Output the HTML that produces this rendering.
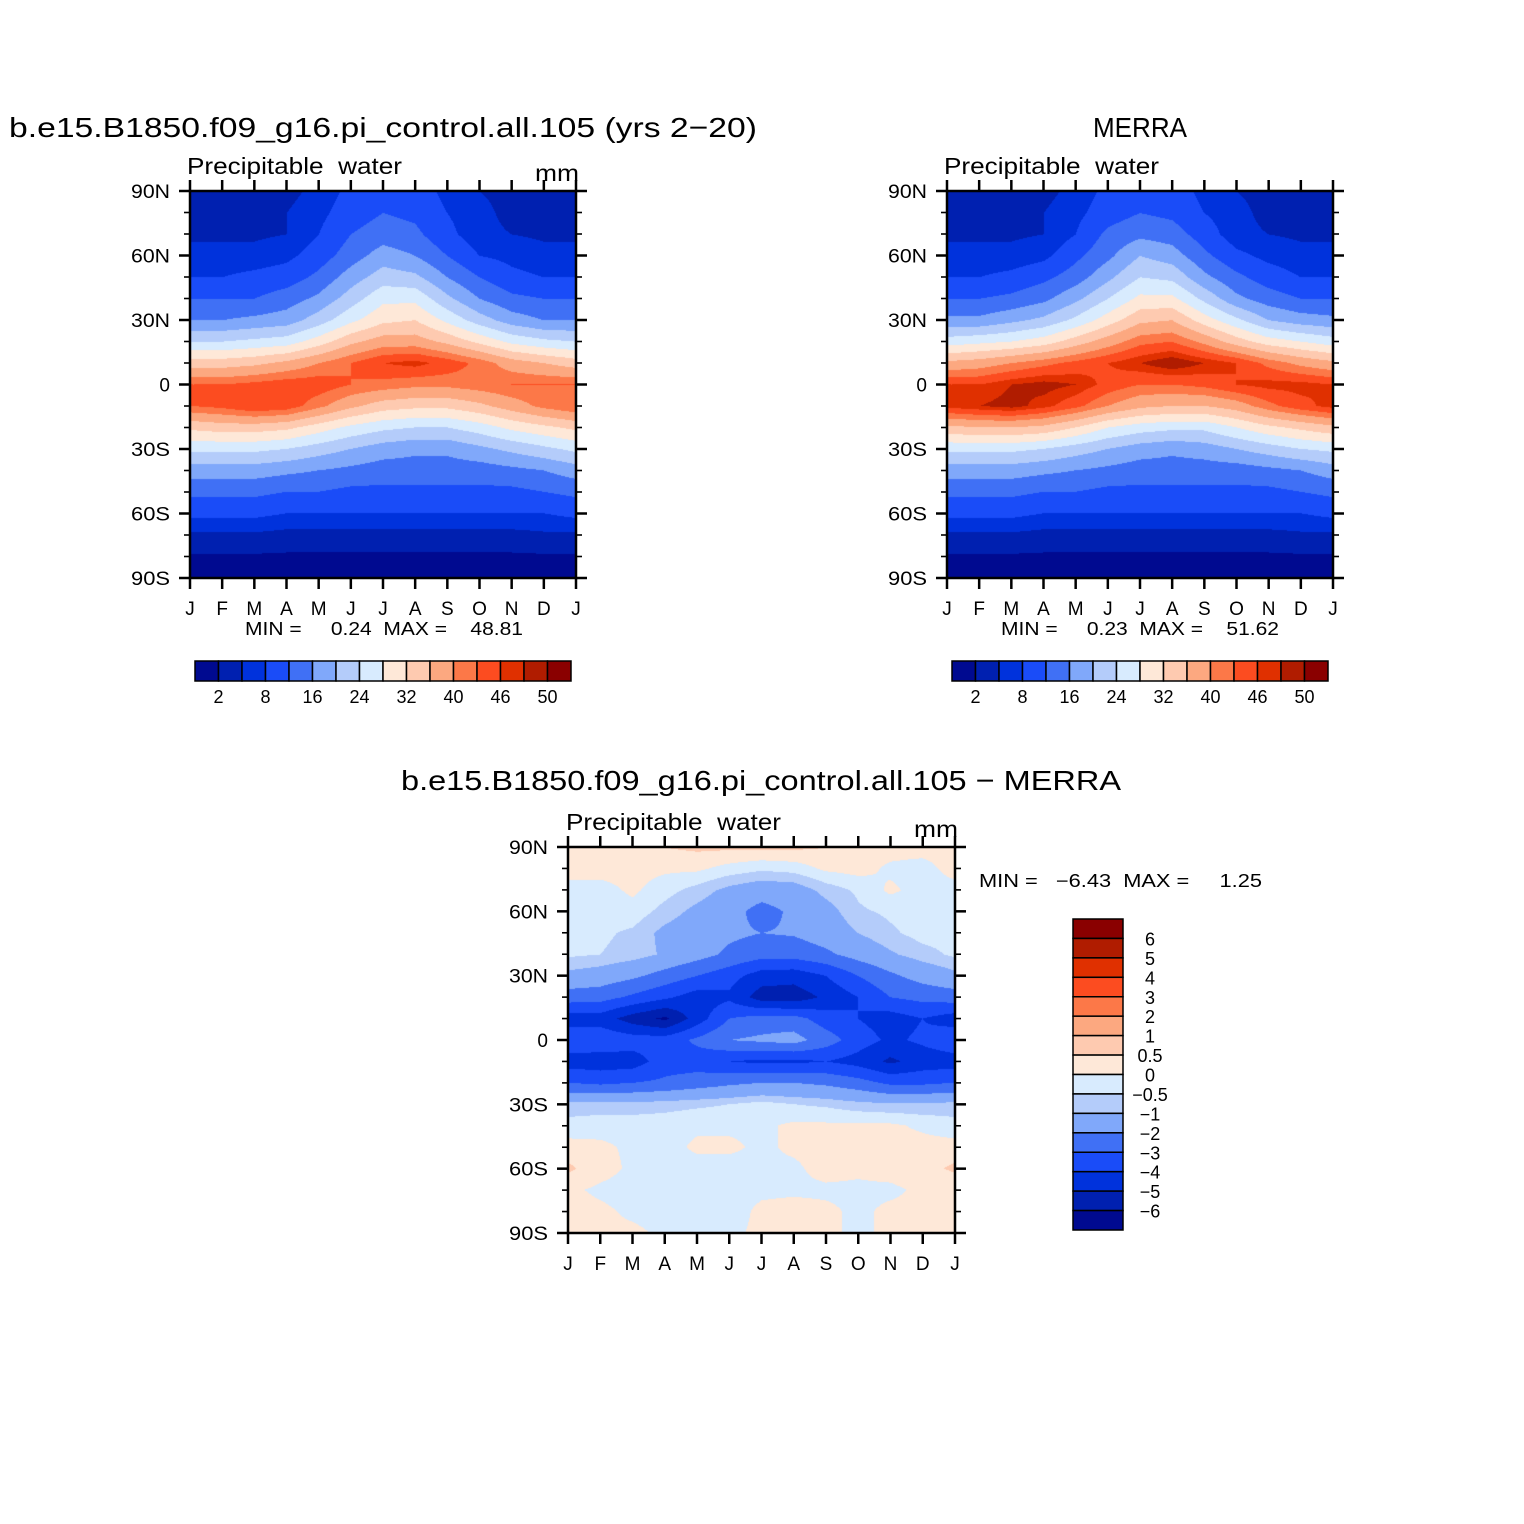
<!DOCTYPE html>
<html><head><meta charset="utf-8">
<style>
html,body{margin:0;padding:0;background:#fff;}
#wrap{position:relative;width:1524px;height:1524px;overflow:hidden;font-family:"Liberation Sans",sans-serif;}
canvas{position:absolute;}
svg{position:absolute;left:0;top:0;}
</style></head>
<body>
<div id="wrap">
<canvas id="c1" width="386" height="387" style="left:190px;top:191px"></canvas>
<canvas id="c2" width="386" height="387" style="left:947px;top:191px"></canvas>
<canvas id="c3" width="387" height="386" style="left:568px;top:847px"></canvas>
<svg id="ov" width="1524" height="1524"></svg>
</div>
<script>
const months=["J","F","M","A","M","J","J","A","S","O","N","D","J"];
const lats=[90,80,70,60,50,40,30,20,10,0,-10,-20,-30,-40,-50,-60,-70,-80,-90];
const latTicks=["90N","60N","30N","0","30S","60S","90S"];
const absLevels=[2,5,8,12,16,20,24,28,32,36,40,43,46,48,50];
const absLabels=["2","8","16","24","32","40","46","50"];
const diffLevels=[-6,-5,-4,-3,-2,-1,-0.5,0,0.5,1,2,3,4,5,6];
const diffLabels=["6","5","4","3","2","1","0.5","0","\u22120.5","\u22121","\u22122","\u22123","\u22124","\u22125","\u22126"];
const palette=["#000a90","#0020b0","#0032dc","#1a4cf8","#4070f5","#80a8fa","#b4ccfa","#d8ebfe","#fee8d8","#fecab0","#fca880","#fc7848","#fc4c20","#e03000","#b01c00","#8a0000"];
const modelPW=[
[4,4,4,4,6,9,11,10,7,5,4,4,4],
[4,4,4,5,7,10,12,11,8,6,4,4,4],
[4.5,4.5,4.5,5,8,12,14,13,9,6,5,4.5,4.5],
[6,6,6,7,10,14,18,16,12,8,7,6,6],
[8,8,9,10,13,18,22,21,16,12,9,8,8],
[12,12,12,14,17,22,27,27,21,16,13,12,12],
[16,16,17,18,22,27,31,32,27,22,18,16,16],
[24,24,25,26,30,35,38,38,35,31,27,25,24],
[34,34,35,37,40,43,46,47,45,42,38,36,34],
[43,43,44,45,45,43,42,41,41,42,43,43,43],
[43,44,46,45,41,37,34,33,33,35,38,41,43],
[33,34,34,33,30,27,25,24,24,26,29,31,33],
[25,25,25,24,22,20,18,17,17,19,21,23,25],
[18,18,18,17,16,15,14,14,14,14,15,16,18],
[13,13,13,12,12,11,11,11,11,11,11,12,13],
[9,9,9,8,8,8,8,8,8,8,8,8,9],
[4.5,4.5,4.5,4,4,4,4,4,4,4,4,4.5,4.5],
[1.8,1.8,1.7,1.6,1.5,1.5,1.5,1.5,1.5,1.5,1.6,1.7,1.8],
[1.5,1.5,1.2,1,1,1,1,1,1,1,1,1.2,1.5]];
const merraPW=[
[3.5,3.5,3.5,4,6,9,11,10,7,5,4,3.5,3.5],
[4,4,4,5,7,10,12,11,8,6,4,4,4],
[4.5,4.5,4.5,5,8,13,15,14,10,6,5,4.5,4.5],
[6,6,6,7,11,15,20,18,13,9,7,6,6],
[8,8,9,11,14,19,24,23,17,13,10,8,8],
[12,12,13,15,19,24,29,29,23,17,14,12,12],
[17,17,19,21,25,30,35,36,30,25,20,18,17],
[26,27,28,30,34,38,42,43,39,34,30,28,26],
[37,38,40,42,44,46,48,50,48,46,42,39,37],
[46,46,48,49,48,45,43,43,44,46,47,47,46],
[47,48,49,47,44,40,37,36,36,38,42,45,47],
[35,36,36,35,32,28,26,25,25,28,31,33,35],
[25,25,25,24,22,20,18,17,18,20,22,24,25],
[18,18,18,17,16,15,14,14,14,14,15,16,18],
[13,13,13,12,12,11,11,11,11,11,11,12,13],
[9,9,9,8,8,8,8,8,8,8,8,8,9],
[4.5,4.5,4.5,4,4,4,4,4,4,4,4,4.5,4.5],
[1.8,1.8,1.7,1.6,1.5,1.5,1.5,1.5,1.5,1.5,1.6,1.7,1.8],
[1.4,1.4,1.2,1,1,1,1,1,1,1,1,1.2,1.4]];
const diffPW=[
[0.2,0.2,0.3,0.5,0.6,0.6,0.6,0.6,0.5,0.3,0.2,0.2,0.2],
[0.2,0.2,0.2,0.1,0.1,-0.2,-0.4,-0.3,0.1,0.2,-0.1,-0.2,0.2],
[-0.2,-0.2,0.1,-0.3,-0.7,-1.2,-1.5,-1.4,-0.8,-0.4,0.1,-0.2,-0.2],
[-0.3,-0.3,-0.2,-0.7,-1.2,-1.6,-2.4,-1.8,-1.3,-0.6,-0.4,-0.2,-0.3],
[-0.3,-0.4,-0.6,-1.2,-1.5,-1.8,-2.0,-1.9,-1.5,-1.0,-0.6,-0.3,-0.3],
[-0.4,-0.5,-0.7,-1.1,-1.6,-2.2,-2.6,-2.6,-2.2,-1.6,-1.1,-0.7,-0.4],
[-1.2,-1.4,-1.8,-2.4,-3.0,-3.6,-4.5,-4.6,-4.0,-3.0,-2.2,-1.6,-1.2],
[-2.5,-2.6,-3.2,-3.8,-4.5,-4.2,-5.5,-5.6,-4.8,-4.0,-3.0,-2.7,-2.5],
[-4.5,-4.5,-5.5,-6.2,-4.5,-3.0,-2.6,-2.6,-3.5,-4.0,-4.5,-4.0,-4.5],
[-3.2,-3.2,-3.5,-3.5,-2.8,-2.0,-1.8,-1.6,-2.5,-3.5,-4.2,-3.8,-3.2],
[-4.5,-4.6,-4.5,-3.5,-3.5,-4.0,-4.2,-4.2,-4.0,-4.4,-5.2,-4.6,-4.5],
[-3.0,-3.2,-3.0,-2.8,-2.5,-2.2,-2.0,-2.0,-2.2,-2.6,-3.2,-3.2,-3.0],
[-0.8,-0.8,-0.8,-0.7,-0.6,-0.5,-0.3,-0.5,-0.6,-0.8,-0.9,-0.9,-0.8],
[-0.3,-0.2,-0.2,-0.2,-0.1,-0.1,-0.1,0.1,0.1,0.1,0.1,-0.1,-0.3],
[0.2,0.1,-0.1,-0.2,0.1,0.1,-0.1,0.1,0.2,0.2,0.2,0.2,0.2],
[0.6,0.2,-0.1,-0.2,-0.2,-0.2,-0.1,-0.1,0.2,0.1,0.2,0.3,0.6],
[0.1,-0.1,-0.2,-0.2,-0.2,-0.2,-0.1,-0.1,-0.1,-0.1,-0.1,0.1,0.1],
[0.2,0.1,-0.1,-0.2,-0.2,-0.2,0.1,0.2,0.1,-0.1,0.1,0.1,0.2],
[0.1,0.1,0.1,-0.1,-0.1,-0.1,0.1,0.1,0.1,-0.1,0.1,0.1,0.1]];

function colorFor(v,levels){let i=0;while(i<levels.length&&v>=levels[i])i++;return palette[i];}
function hex(c){return [parseInt(c.substr(1,2),16),parseInt(c.substr(3,2),16),parseInt(c.substr(5,2),16)];}
function sample(grid,fx,fy){
  const x0=Math.min(11,Math.floor(fx)),y0=Math.min(17,Math.floor(fy));const tx=fx-x0,ty=fy-y0;
  const a=grid[y0][x0],b=grid[y0][x0+1],c=grid[y0+1][x0],d=grid[y0+1][x0+1];
  return (a*(1-tx)+b*tx)*(1-ty)+(c*(1-tx)+d*tx)*ty;}
function drawField(id,grid,levels){
  const cv=document.getElementById(id),ctx=cv.getContext('2d');const W=cv.width,H=cv.height;
  const img=ctx.createImageData(W,H);const cache={};
  for(let y=0;y<H;y++)for(let x=0;x<W;x++){
    const v=sample(grid,x/(W-1)*(months.length-1),y/(H-1)*(lats.length-1));
    const col=colorFor(v,levels);const rgb=cache[col]||(cache[col]=hex(col));
    const k=(y*W+x)*4;img.data[k]=rgb[0];img.data[k+1]=rgb[1];img.data[k+2]=rgb[2];img.data[k+3]=255;}
  ctx.putImageData(img,0,0);}
drawField('c1',modelPW,absLevels);
drawField('c2',merraPW,absLevels);
drawField('c3',diffPW,diffLevels);

const NS="http://www.w3.org/2000/svg";const ov=document.getElementById('ov');
function el(tag,attrs,parent){const e=document.createElementNS(NS,tag);for(const k in attrs)e.setAttribute(k,attrs[k]);(parent||ov).appendChild(e);return e;}
function txt(x,y,s,size,anchor,name,len){const t=el('text',{x:x,y:y,'font-size':size,'text-anchor':anchor||'start','font-family':'Liberation Sans, sans-serif',fill:'#000'});t.textContent=s;
if(len){t.setAttribute('textLength',len);t.setAttribute('lengthAdjust','spacingAndGlyphs');}
t.style.whiteSpace='pre';


return t;}
function axes(L,T,W,H,pfx){
  const g=el('g',{});
  
  
  const yOf=lat=>T+(90-lat)/180*H;const xOf=i=>L+i/(months.length-1)*W;
  for(let lat=90;lat>=-90;lat-=10){const y=yOf(lat);const major=lat%30===0;const len=major?11:6;
    el('line',{x1:L-len,y1:y,x2:L,y2:y,stroke:'#000','stroke-width':major?2.5:1.6},g);
    el('line',{x1:L+W,y1:y,x2:L+W+len,y2:y,stroke:'#000','stroke-width':major?2.5:1.6},g);}
  latTicks.forEach((s,i)=>{const lat=90-i*30;txt(L-20,yOf(lat)+7,s,19,'end',pfx+'-lat-label',s.length>1?39:null);});
  months.forEach((m,i)=>{const x=xOf(i);
    el('line',{x1:x,y1:T+H,x2:x,y2:T+H+11,stroke:'#000','stroke-width':2.5},g);
    el('line',{x1:x,y1:T-11,x2:x,y2:T,stroke:'#000','stroke-width':2.5},g);
    txt(x,T+H+37,m,19,'middle',pfx+'-month-label');});
  el('rect',{x:L,y:T,width:W,height:H,fill:'none',stroke:'#000','stroke-width':2.5},g);}
axes(190,191,386,387,'model');
axes(947,191,386,387,'merra');
axes(568,847,387,386,'diff');

txt(9,137,"b.e15.B1850.f09_g16.pi_control.all.105 (yrs 2\u221220)",28,'start','model-title',748);
txt(1093,137,"MERRA",28,'start','merra-title',94);
txt(401,790,"b.e15.B1850.f09_g16.pi_control.all.105 \u2212 MERRA",28,'start','diff-title',720);
txt(187,174,"Precipitable  water",23,'start','model-subtitle',215);
txt(944,174,"Precipitable  water",23,'start','merra-subtitle',215);
txt(566,830,"Precipitable  water",23,'start','diff-subtitle',215);
txt(535,181,"mm",23,'start','model-units',44);
txt(914,837,"mm",23,'start','diff-units',44);
txt(245,635,"MIN =     0.24  MAX =    48.81",18,'start','model-minmax',278);
txt(1001,635,"MIN =     0.23  MAX =    51.62",18,'start','merra-minmax',278);
txt(979,887,"MIN =   \u22126.43  MAX =     1.25",18,'start','diff-minmax',283);

function hbar(L,T,W,H,pfx){const n=palette.length;const bw=W/n;
  palette.forEach((c,i)=>{const r=el('rect',{x:L+i*bw,y:T,width:bw,height:H,fill:c,stroke:'#000','stroke-width':1.5});
    
    });
  absLabels.forEach((s,i)=>{txt(L+(2*i+1)*bw,T+42,s,18,'middle',pfx+'-colorbar-label');});}
hbar(195,661,376,20,'model');
hbar(952,661,376,20,'merra');
(function(){const L=1073,T=919,W=50,H=311;const n=palette.length;const bh=H/n;
  for(let i=0;i<n;i++){const r=el('rect',{x:L,y:T+i*bh,width:W,height:bh,fill:palette[n-1-i],stroke:'#000','stroke-width':1.5});
    
    }
  diffLabels.forEach((s,i)=>{txt(1150,T+(i+1)*bh+7,s,18,'middle','diff-colorbar-label');});})();
</script>
</body></html>
